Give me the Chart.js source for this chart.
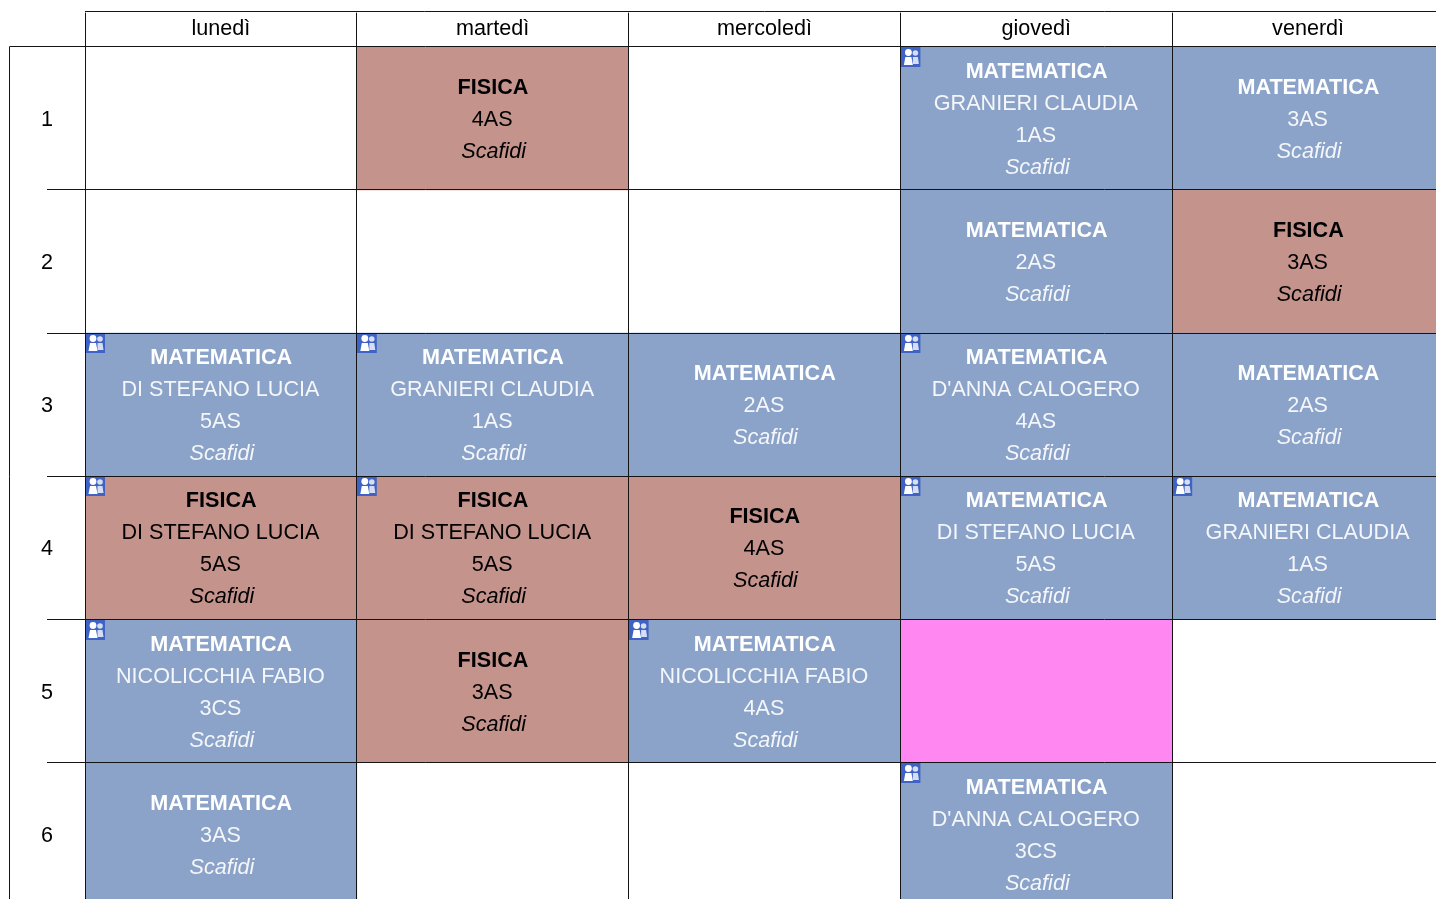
<!DOCTYPE html>
<html><head><meta charset="utf-8">
<style>html,body{margin:0;padding:0;background:#fff;overflow:hidden;width:1436px;height:899px}canvas{display:block}</style>
<script src="https://cdn.jsdelivr.net/npm/chart.js@4"></script></head>
<body><canvas id="c" width="1444" height="906"></canvas>
<script>
const days = ['lunedì','martedì','mercoledì','giovedì','venerdì'];
const periods = ['1','2','3','4','5','6'];
const M = 'MATEMATICA', F = 'FISICA', X = 'SOSPESO';
const DS = 'DI STEFANO LUCIA', GC = 'GRANIERI CLAUDIA', NF = 'NICOLICCHIA FABIO', DC = "D'ANNA CALOGERO";
const room = 'Scafidi';
const subjLun = [null, null, M, F, M, M];
const subjMar = [F, null, M, F, F, null];
const subjMer = [null, null, M, F, M, null];
const subjGio = [M, M, M, M, X, M];
const subjVen = [M, F, M, M, null, null];
const teachLun = [null, null, DS, DS, NF, null];
const teachMar = [null, null, GC, DS, null, null];
const teachMer = [null, null, null, null, NF, null];
const teachGio = [GC, null, DC, DS, null, DC];
const teachVen = [null, null, null, GC, null, null];
const classLun = [null, null, '5AS', '5AS', '3CS', '3AS'];
const classMar = ['4AS', null, '1AS', '5AS', '3AS', null];
const classMer = [null, null, '2AS', '4AS', '4AS', null];
const classGio = ['1AS', '2AS', '4AS', '5AS', null, '3CS'];
const classVen = ['3AS', '3AS', '2AS', '1AS', null, null];
const subjects = [subjLun, subjMar, subjMer, subjGio, subjVen];
const teachers = [teachLun, teachMar, teachMer, teachGio, teachVen];
const classes = [classLun, classMar, classMer, classGio, classVen];

const BLUE = '#8ba3c8', RED = '#c3938c', PINK = '#ff87f2', LINE = '#141414';
const FAM = '"Liberation Sans", Arial, sans-serif';
const SIZE = 21.6;
const colourOf = s => s === M ? BLUE : s === F ? RED : s === X ? PINK : 'rgba(0,0,0,0)';

function drawIcon(ctx, x, y) {
  ctx.save();
  ctx.fillStyle = '#3f63c4';
  ctx.fillRect(x, y, 20, 20);
  ctx.fillStyle = '#d5def2';
  ctx.beginPath(); ctx.arc(x + 15, y + 6, 2.8, 0, 7); ctx.fill();
  ctx.beginPath(); ctx.moveTo(x + 12.5, y + 10); ctx.lineTo(x + 17.5, y + 10); ctx.lineTo(x + 18.5, y + 17); ctx.lineTo(x + 12.5, y + 17); ctx.closePath(); ctx.fill();
  ctx.fillStyle = '#ffffff';
  ctx.beginPath(); ctx.arc(x + 8, y + 5.5, 3.4, 0, 7); ctx.fill();
  ctx.beginPath(); ctx.moveTo(x + 5, y + 10); ctx.lineTo(x + 11, y + 10); ctx.lineTo(x + 12.5, y + 18); ctx.lineTo(x + 3.5, y + 18); ctx.closePath(); ctx.fill();
  ctx.restore();
}

const cellText = {
  id: 'cellText',
  afterDatasetsDraw(chart) {
    const { ctx, scales: { xv, y } } = chart;
    ctx.save();
    ctx.textAlign = 'center';
    ctx.textBaseline = 'middle';
    subjects.forEach((col, d) => col.forEach((s, p) => {
      if (!s || s === X) return;
      const cx = xv.getPixelForValue(d + 0.5) - 0.5;
      const cy = y.getPixelForTick(p);
      const lines = [[s, 'bold'], teachers[d][p] && [teachers[d][p], ''], [classes[d][p], ''], [room, 'italic']].filter(Boolean);
      const step = 32;
      ctx.fillStyle = s === M ? '#ffffff' : '#000000';
      lines.forEach((l, i) => {
        const ly = cy + (i - (lines.length - 1) / 2) * step + 1.4;
        ctx.font = (l[1] ? l[1] + ' ' : '') + SIZE + 'px ' + FAM;
        ctx.globalAlpha = (s === M && l[1] !== 'bold') ? 0.9 : 1;
        ctx.fillText(l[0], cx + (l[1] === 'italic' ? 1.5 : l[1] === 'bold' ? 0.8 : 0), ly);
      });
      ctx.globalAlpha = 1;
      if (teachers[d][p]) {
        const left = xv.getPixelForValue(d), top = y.getPixelForTick(p) - (y.getPixelForTick(1) - y.getPixelForTick(0)) / 2;
        drawIcon(ctx, left, Math.round(top));
      }
    }));
    ctx.restore();
  },
  afterDraw(chart) {
    const { ctx, chartArea: a } = chart;
    ctx.save();
    ctx.strokeStyle = LINE; ctx.lineWidth = 1;
    ctx.beginPath();
    ctx.moveTo(a.left, 11.5); ctx.lineTo(a.right, 11.5);
    ctx.moveTo(9.5, Math.floor(a.top) + 0.5); ctx.lineTo(a.left, Math.floor(a.top) + 0.5);
    ctx.moveTo(9.5, a.top); ctx.lineTo(9.5, a.bottom);
    ctx.stroke();
    ctx.restore();
  }
};

new Chart(document.getElementById('c'), {
  type: 'bar',
  data: {
    labels: periods,
    datasets: days.map((day, d) => ({
      label: day,
      xAxisID: 'xv', yAxisID: 'y',
      data: subjects[d].map(s => s ? [d, d + 1] : null),
      backgroundColor: subjects[d].map(colourOf),
      borderWidth: 0,
      grouped: false,
      barPercentage: 1,
      categoryPercentage: 1
    }))
  },
  options: {
    indexAxis: 'y',
    responsive: false,
    animation: false,
    layout: { padding: 0, autoPadding: false },
    plugins: { legend: { display: false }, tooltip: { enabled: false }, title: { display: false } },
    scales: {
      xv: { type: 'linear', axis: 'x', display: false, min: 0, max: 5 },
      x: {
        type: 'category', axis: 'x', position: 'top', labels: days, offset: true,
        afterFit(s) { s.height = 46.6; s.paddingLeft = 0; s.paddingRight = 0; },
        grid: { offset: true, color: LINE, lineWidth: 1, tickLength: 34, z: 1 },
        border: { display: false },
        ticks: { color: '#000', font: { family: FAM, size: SIZE }, padding: -29, maxRotation: 0, minRotation: 0, autoSkip: false }
      },
      y: {
        type: 'category', axis: 'y', position: 'left', offset: true,
        afterFit(s) { s.width = 85; s.paddingTop = 0; s.paddingBottom = 0; },
        grid: { offset: true, color: LINE, lineWidth: 1, tickLength: 38, z: 1 },
        border: { color: LINE, z: 1 },
        ticks: { color: '#000', font: { family: FAM, size: SIZE }, crossAlign: 'center', padding: -6, labelOffset: 1.6, autoSkip: false }
      }
    }
  },
  plugins: [cellText]
});
</script></body></html>
